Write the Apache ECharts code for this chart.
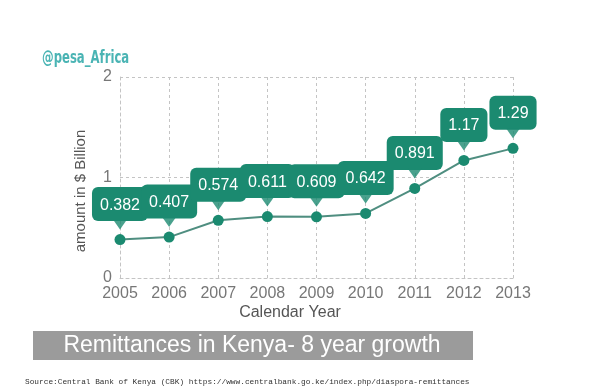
<!DOCTYPE html>
<html><head><meta charset="utf-8">
<script src="https://cdn.jsdelivr.net/npm/echarts@6/dist/echarts.min.js"></script>
<style>html,body{margin:0;padding:0;background:#fff}#c{width:600px;height:391px}</style>
</head><body><div id="c"></div>
<script>
const years = ['2005','2006','2007','2008','2009','2010','2011','2012','2013'];
const remittances = [0.382, 0.407, 0.574, 0.611, 0.609, 0.642, 0.891, 1.17, 1.29];
const yTicks = [0, 1, 2];

const teal = '#1b8a70';
const chart = echarts.init(document.getElementById('c'));
chart.setOption({
  animation: false,
  backgroundColor: '#fff',
  grid: {left: 120, right: 87, top: 77, bottom: 113},
  xAxis: {
    type: 'category', data: years, boundaryGap: false,
    axisLine: {show: true, lineStyle: {color: '#c4c4c4', type: [3, 3]}},
    axisTick: {show: false},
    axisLabel: {color: '#777', fontSize: 16, fontFamily: 'Liberation Sans', margin: 8},
    splitLine: {show: true, lineStyle: {color: '#c4c4c4', type: [3, 3]}}
  },
  yAxis: {
    type: 'value', min: yTicks[0], max: yTicks[yTicks.length-1], interval: 1,
    axisLine: {show: true, lineStyle: {color: '#c4c4c4', type: [3, 3]}},
    axisTick: {show: false},
    axisLabel: {color: '#777', fontSize: 16, fontFamily: 'Liberation Sans', margin: 8},
    splitLine: {show: true, lineStyle: {color: '#c4c4c4', type: [3, 3]}}
  },
  series: [
    {
      type: 'line', data: remittances, symbol: 'circle', symbolSize: 11,
      itemStyle: {color: teal},
      lineStyle: {color: '#4f8e80', width: 2},
      z: 3,
      label: {
        show: true, position: 'top', distance: 13,
        color: '#fff', fontSize: 16, fontFamily: 'Liberation Sans',
        backgroundColor: teal, borderRadius: 6, padding: [9, 8, 7, 8],
        lineHeight: 18
      }
    },
    {
      type: 'scatter', data: remittances, symbol: 'triangle', symbolRotate: 180,
      symbolSize: [14, 10], symbolOffset: [0, -15],
      itemStyle: {color: teal}, z: 5, silent: true
    }
  ],
  graphic: [
    {type: 'text', x: 42, y: 58, scaleX: 0.72, style: {text: '@pesa_Africa', fill: '#4ab4b4', font: 'bold 18px "DejaVu Sans Condensed", "DejaVu Sans"', verticalAlign: 'middle'}},
    {type: 'text', x: 81, y: 191, rotation: Math.PI/2, style: {text: 'amount in $ Billion', fill: '#555', font: '15px "Liberation Sans"', align: 'center', verticalAlign: 'middle'}},
    {type: 'text', x: 290, y: 313, style: {text: 'Calendar Year', fill: '#555', font: '16px "Liberation Sans"', align: 'center', verticalAlign: 'middle'}},
    {type: 'rect', shape: {x: 33, y: 331, width: 440, height: 29}, style: {fill: '#9b9b9b'}},
    {type: 'text', x: 252, y: 346, style: {text: 'Remittances in Kenya- 8 year growth', fill: '#fff', font: '23px "Liberation Sans"', align: 'center', verticalAlign: 'middle'}},
    {type: 'text', x: 25, y: 382, style: {text: 'Source:Central Bank of Kenya (CBK) https://www.centralbank.go.ke/index.php/diaspora-remittances', fill: '#333', font: '7.8px "Liberation Mono"', verticalAlign: 'middle'}}
  ]
});
</script></body></html>
